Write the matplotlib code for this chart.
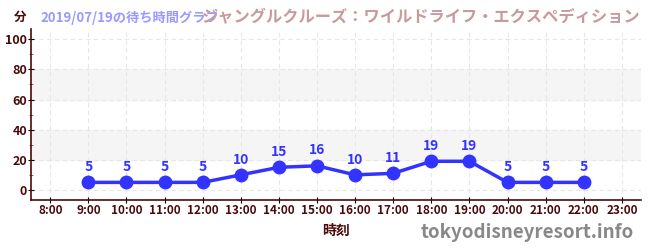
import matplotlib.pyplot as plt
from matplotlib.ticker import MultipleLocator

plt.rcParams['font.family'] = ['Noto Sans CJK JP', 'DejaVu Sans']

hours = [9, 10, 11, 12, 13, 14, 15, 16, 17, 18, 19, 20, 21, 22]
waits = [5, 5, 5, 5, 10, 15, 16, 10, 11, 19, 19, 5, 5, 5]
tick_hours = list(range(8, 24))
tick_labels = [f"{h}:00" for h in tick_hours]

dark = "#4a0a0a"
blue = "#3333ff"

fig = plt.figure(figsize=(6.5, 2.5), dpi=100)
ax = fig.add_axes([0.048, 0.2, 0.938, 0.685])

# 背景の帯
for lo, hi in [(20, 40), (60, 80)]:
    ax.axhspan(lo, hi, color="#f5f5f5", zorder=0)

ax.plot(hours, waits, color=blue, lw=2.5, marker="o", ms=9, zorder=3)
for h, w in zip(hours, waits):
    ax.annotate(str(w), (h, w), xytext=(0, 6), textcoords="offset points",
                ha="center", va="bottom", color=blue, fontsize=10,
                fontweight="bold")

ax.set_xlim(7.5, 23.5)
ax.set_ylim(-6.7, 107)
ax.set_xticks(tick_hours)
ax.set_xticklabels(tick_labels)
ax.set_yticks([0, 20, 40, 60, 80, 100])
ax.yaxis.set_minor_locator(MultipleLocator(10))
ax.grid(True, which="major", ls=(0, (4, 3)), color="#e6e6e6", lw=0.8)
ax.set_axisbelow(True)

for s in ["top", "right"]:
    ax.spines[s].set_visible(False)
for s in ["left", "bottom"]:
    ax.spines[s].set_color(dark)
    ax.spines[s].set_linewidth(1.2)

ax.tick_params(axis="both", which="major", colors="black", length=4,
               direction="inout", labelsize=8.5, pad=1)
ax.tick_params(axis="y", which="minor", colors="#dd2222", length=3,
               direction="inout")
for lab in ax.get_xticklabels() + ax.get_yticklabels():
    lab.set_color(dark)
    lab.set_fontweight("bold")
for lab in ax.get_yticklabels():
    lab.set_fontsize(9)

ax.set_xlabel("時刻", color=dark, fontsize=10, fontweight="bold", labelpad=5)

fig.text(0.022, 0.93, "分", color=dark, fontsize=9, fontweight="bold",
         va="center")
fig.text(0.062, 0.93, "2019/07/19の待ち時間グラフ", color="#9999ff",
         fontsize=9.5, fontweight="bold", va="center")
fig.text(0.985, 0.93, "ジャングルクルーズ：ワイルドライフ・エクスペディション",
         color="#c89a9e", fontsize=11.7, fontweight="bold", va="center",
         ha="right")
fig.text(0.975, 0.068, "tokyodisneyresort.info", color="#888888",
         fontsize=13.5, fontweight="bold", ha="right", va="center")

fig.savefig("out.png", dpi=100)
